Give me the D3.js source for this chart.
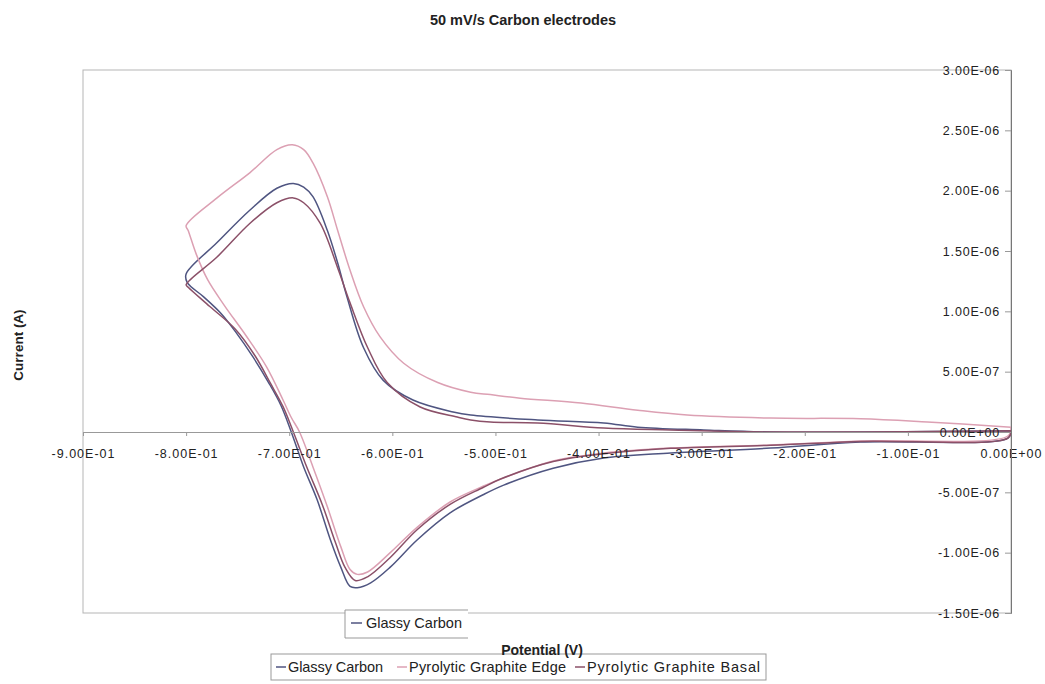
<!DOCTYPE html>
<html>
<head>
<meta charset="utf-8">
<script src="https://cdn.jsdelivr.net/npm/d3@7"></script>
<style>
body { margin: 0; background: #fff; }
text { font-family: "Liberation Sans", Arial, sans-serif; fill: #222; }
</style>
</head>
<body>
<div id="chart"></div>
<script>
// Potential in V, current in microamps (converted to A below)
var gcPotential = [0, -0.233, -0.298, -0.362, -0.395, -0.459, -0.524, -0.541, -0.580, -0.609, -0.628, -0.644, -0.653, -0.663, -0.677, -0.686, -0.696, -0.712, -0.738, -0.770, -0.800,
    -0.799, -0.783, -0.767, -0.752, -0.735, -0.720, -0.708, -0.698, -0.686, -0.673, -0.660, -0.650, -0.641, -0.634, -0.621, -0.602, -0.576, -0.544, -0.512, -0.492, -0.444, -0.395, -0.330, -0.233, -0.146, -0.003, 0];
var gcCurrent = [0.01, 0.00, 0.017, 0.04, 0.075, 0.10, 0.14, 0.166, 0.265, 0.43, 0.70, 1.12, 1.40, 1.67, 1.95, 2.03, 2.06, 2.02, 1.84, 1.57, 1.31,
    1.24, 1.12, 0.99, 0.83, 0.62, 0.41, 0.22, 0.0, -0.29, -0.56, -0.895, -1.12, -1.28, -1.29, -1.25, -1.12, -0.895, -0.67, -0.52, -0.44, -0.30, -0.215, -0.174, -0.133, -0.083, -0.05, 0.01];

var pgePotential = [0, -0.081, -0.146, -0.233, -0.314, -0.362, -0.417, -0.476, -0.505, -0.524, -0.556, -0.589, -0.612, -0.628, -0.641, -0.653, -0.663, -0.677, -0.686, -0.697, -0.712, -0.738, -0.770, -0.800,
    -0.798, -0.790, -0.779, -0.763, -0.742, -0.722, -0.706, -0.698, -0.690, -0.677, -0.663, -0.650, -0.641, -0.634, -0.624, -0.602, -0.576, -0.544, -0.512, -0.492, -0.444, -0.395, -0.330, -0.233, -0.146, -0.003, 0];
var pgeCurrent = [0.04, 0.083, 0.11, 0.115, 0.14, 0.18, 0.24, 0.28, 0.31, 0.33, 0.41, 0.57, 0.79, 1.04, 1.34, 1.67, 1.95, 2.23, 2.34, 2.38, 2.34, 2.15, 1.94, 1.71,
    1.67, 1.47, 1.26, 1.05, 0.80, 0.54, 0.265, 0.12, 0.0, -0.29, -0.62, -0.95, -1.14, -1.18, -1.16, -1.00, -0.79, -0.58, -0.45, -0.38, -0.24, -0.174, -0.133, -0.108, -0.075, -0.033, 0.04];

var pgbPotential = [0, -0.233, -0.330, -0.395, -0.459, -0.505, -0.524, -0.537, -0.573, -0.605, -0.624, -0.641, -0.653, -0.670, -0.686, -0.696, -0.712, -0.738, -0.770, -0.800,
    -0.798, -0.777, -0.752, -0.733, -0.718, -0.706, -0.696, -0.683, -0.668, -0.655, -0.646, -0.636, -0.624, -0.602, -0.576, -0.544, -0.512, -0.495, -0.444, -0.395, -0.330, -0.233, -0.146, -0.003, 0];
var pgbCurrent = [0.01, 0.0, 0.017, 0.033, 0.075, 0.083, 0.10, 0.124, 0.207, 0.41, 0.70, 1.07, 1.36, 1.73, 1.90, 1.94, 1.90, 1.73, 1.45, 1.22,
    1.20, 1.04, 0.85, 0.63, 0.40, 0.21, 0.0, -0.29, -0.60, -0.92, -1.12, -1.23, -1.20, -1.04, -0.81, -0.60, -0.46, -0.39, -0.245, -0.18, -0.135, -0.11, -0.078, -0.05, 0.01];

var seriesNames = ["Glassy Carbon", "Pyrolytic Graphite Edge", "Pyrolytic Graphite Basal"];
var xTicks = [-0.9, -0.8, -0.7, -0.6, -0.5, -0.4, -0.3, -0.2, -0.1, 0];
var yTicks = [3e-6, 2.5e-6, 2e-6, 1.5e-6, 1e-6, 5e-7, 0, -5e-7, -1e-6, -1.5e-6];

var uA = 1e-6;
var colors = ["#4f5581", "#dca0b3", "#8b5068"];

var svgWidth = 1045;
var svgHeight = 684;
var plot = { left: 83, right: 1011, top: 70, bottom: 613 };

var svg = d3.select("#chart")
    .append("svg")
    .attr("width", svgWidth)
    .attr("height", svgHeight);

var x = d3.scaleLinear().domain([-0.9, 0]).range([plot.left, plot.right]);
var y = d3.scaleLinear().domain([-1.5e-6, 3e-6]).range([plot.bottom, plot.top]);

// Excel style 0.00E+00
function sci(v) {
    var s = v.toExponential(2).toUpperCase();
    return s.replace(/E([+-])(\d)$/, "E$10$2");
}

// plot area border
svg.append("rect")
    .attr("x", plot.left).attr("y", plot.top)
    .attr("width", plot.right - plot.left).attr("height", plot.bottom - plot.top)
    .attr("fill", "none").attr("stroke", "#b5b5b5").attr("stroke-width", 1);

// series
var series = [
    { p: gcPotential, c: gcCurrent },
    { p: pgePotential, c: pgeCurrent },
    { p: pgbPotential, c: pgbCurrent }
];

var line = d3.line()
    .x(d => x(d[0]))
    .y(d => y(d[1] * uA))
    .curve(d3.curveCatmullRom.alpha(0.5));

series.forEach(function (s, i) {
    var pts = s.p.map((v, j) => [v, s.c[j]]);
    svg.append("path")
        .datum(pts)
        .attr("fill", "none")
        .attr("stroke", colors[i])
        .attr("stroke-width", 1.5)
        .attr("d", line);
});

// x axis through zero
var xAxis = svg.append("g")
    .attr("transform", `translate(0, ${y(0)})`)
    .call(d3.axisBottom(x).tickValues(xTicks).tickFormat(sci).tickSize(4).tickPadding(13));
xAxis.select(".domain").attr("stroke", "#999");
xAxis.selectAll(".tick line").attr("stroke", "#999");
xAxis.selectAll("text").attr("font-size", 12.5).attr("letter-spacing", 1).attr("fill", "#333")
    .attr("font-family", "\"Liberation Sans\", Arial, sans-serif");

// y axis on the right
var yAxis = svg.append("g")
    .attr("transform", `translate(${plot.right}, 0)`)
    .call(d3.axisLeft(y).tickValues(yTicks).tickFormat(sci).tickSize(6).tickPadding(5));
yAxis.select(".domain").attr("stroke", "#777");
yAxis.selectAll(".tick line").attr("stroke", "#999");
yAxis.selectAll("text").attr("font-size", 12.5).attr("letter-spacing", 0.8).attr("fill", "#333")
    .attr("font-family", "\"Liberation Sans\", Arial, sans-serif");

// titles
svg.append("text")
    .attr("x", 523).attr("y", 25)
    .attr("text-anchor", "middle")
    .attr("font-size", 14.5).attr("font-weight", "bold")
    .text("50 mV/s Carbon electrodes");

svg.append("text")
    .attr("transform", "translate(23, 345) rotate(-90)")
    .attr("text-anchor", "middle")
    .attr("font-size", 13.5).attr("font-weight", "bold")
    .text("Current (A)");

// main legend
var legend = svg.append("g");
legend.append("rect")
    .attr("x", 271).attr("y", 654).attr("width", 495).attr("height", 26)
    .attr("fill", "#fff").attr("stroke", "#999");

svg.append("text")
    .attr("x", 542).attr("y", 655)
    .attr("text-anchor", "middle")
    .attr("font-size", 14).attr("font-weight", "bold")
    .text("Potential (V)");

var legendX = [276, 397, 575];
var legendW = [95, 157, 173];
seriesNames.forEach(function (name, i) {
    legend.append("line")
        .attr("x1", legendX[i]).attr("x2", legendX[i] + 10)
        .attr("y1", 667).attr("y2", 667)
        .attr("stroke", colors[i]).attr("stroke-width", 1.5);
    legend.append("text")
        .attr("x", legendX[i] + 12).attr("y", 672)
        .attr("font-size", 14.5)
        .attr("textLength", legendW[i]).attr("lengthAdjust", "spacing")
        .text(name);
});

// small stray legend box
var small = svg.append("g");
small.append("rect")
    .attr("x", 345).attr("y", 610).attr("width", 123).attr("height", 28)
    .attr("fill", "#fff");
small.append("path")
    .attr("d", "M468,610 H345 V638 H468")
    .attr("fill", "none").attr("stroke", "#999");
small.append("line")
    .attr("x1", 351).attr("x2", 362).attr("y1", 623).attr("y2", 623)
    .attr("stroke", colors[0]).attr("stroke-width", 1.5);
small.append("text")
    .attr("x", 366).attr("y", 628)
    .attr("font-size", 14.5)
    .attr("textLength", 96).attr("lengthAdjust", "spacing")
    .text(seriesNames[0]);
</script>
</body>
</html>
